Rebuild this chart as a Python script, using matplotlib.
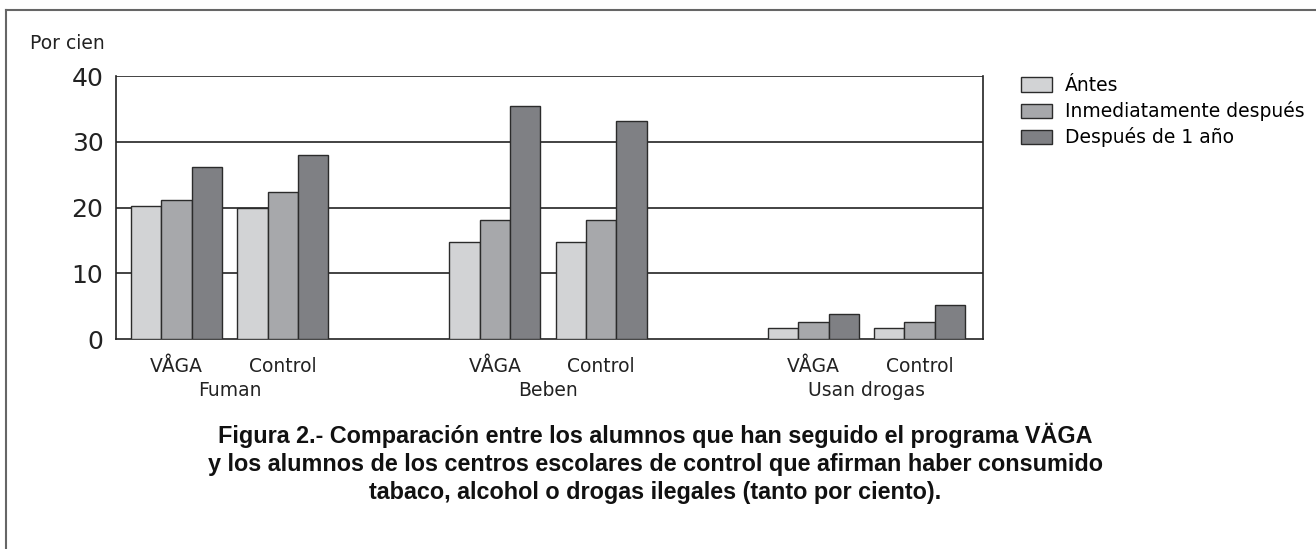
import numpy as np
import matplotlib
matplotlib.use("Agg")
from matplotlib import pyplot as plt
from matplotlib.patches import Patch
from matplotlib.lines import Line2D

plt.rcParams['font.family'] = ['DejaVu Sans']

categories = ['Fuman', 'Beben', 'Usan drogas']
groups = ['VÅGA', 'Control']
series = ['Ántes', 'Inmediatamente después', 'Después de 1 año']
colors = ['#d2d3d5', '#a7a8ab', '#7f8084']

# values[serie][category][group]
antes = [[20.2, 19.9], [14.7, 14.7], [1.7, 1.7]]
inmediato = [[21.1, 22.3], [18.1, 18.1], [2.6, 2.6]]
un_ano = [[26.1, 28.0], [35.5, 33.2], [3.8, 5.1]]
values = [antes, inmediato, un_ano]

yticks = [0, 10, 20, 30, 40]

fig = plt.figure(figsize=(13.16, 5.49), dpi=100)
ax = fig.add_axes([0.0881, 0.3825, 0.659, 0.479])

cat_step = 10.5
grp_step = 3.5
xt, xl = [], []
for i, cat in enumerate(categories):
    for j, g in enumerate(groups):
        start = 0.5 + i * cat_step + j * grp_step
        for k in range(3):
            ax.bar(start + k + 0.5, values[k][i][j], width=1.0, color=colors[k],
                   edgecolor='#2b2b2b', linewidth=1.0, zorder=3)
        xt.append(start + 1.5)
        xl.append(g)
    ax.text(0.5 + i * cat_step + (grp_step + 3) / 2, -7.8, cat, ha='center', va='center',
            fontsize=13.5, color='#222222')

ax.set_xlim(0, 28.6)
ax.set_ylim(0, 40)
ax.set_yticks(yticks)
ax.set_yticklabels([str(v) for v in yticks], fontsize=18, color='#222222')
ax.set_xticks(xt)
ax.set_xticklabels(xl, fontsize=13.5, color='#222222')
ax.tick_params(axis='both', length=0)
ax.tick_params(axis='x', pad=13)
ax.tick_params(axis='y', pad=9)
for v in yticks[1:]:
    ax.axhline(v, color='#222222', linewidth=1.2, zorder=1)
for s in ['left', 'bottom', 'right']:
    ax.spines[s].set_color('#222222')
    ax.spines[s].set_linewidth(1.2)
ax.spines['top'].set_visible(False)

fig.text(30 / 1316, 1 - 44 / 549, 'Por cien', fontsize=13.5, color='#222222', va='center')

handles = [Patch(facecolor=c, edgecolor='#2b2b2b', linewidth=1.0) for c in colors]
fig.legend(handles, series, loc='upper left', bbox_to_anchor=(1021 / 1316, 1 - 76 / 549),
           frameon=False, fontsize=13.5, handlelength=1.65, handleheight=0.8,
           labelspacing=0.33, handletextpad=0.7, borderaxespad=0, borderpad=0)

caption = ('Figura 2.- Comparación entre los alumnos que han seguido el programa VÄGA\n'
           'y los alumnos de los centros escolares de control que afirman haber consumido\n'
           'tabaco, alcohol o drogas ilegales (tanto por ciento).')
fig.text(655 / 1316, 1 - 463 / 549, caption, ha='center', va='center', fontsize=16.8,
         fontweight='bold', linespacing=1.28, color='#111111',
         family=['Liberation Sans', 'DejaVu Sans'])

# frame lines
fig.add_artist(Line2D([6 / 1316, 1], [1 - 10 / 549, 1 - 10 / 549], color='#666666', linewidth=1.5))
fig.add_artist(Line2D([6 / 1316, 6 / 1316], [0, 1 - 10 / 549], color='#666666', linewidth=1.5))

fig.savefig('out.png', dpi=100)
